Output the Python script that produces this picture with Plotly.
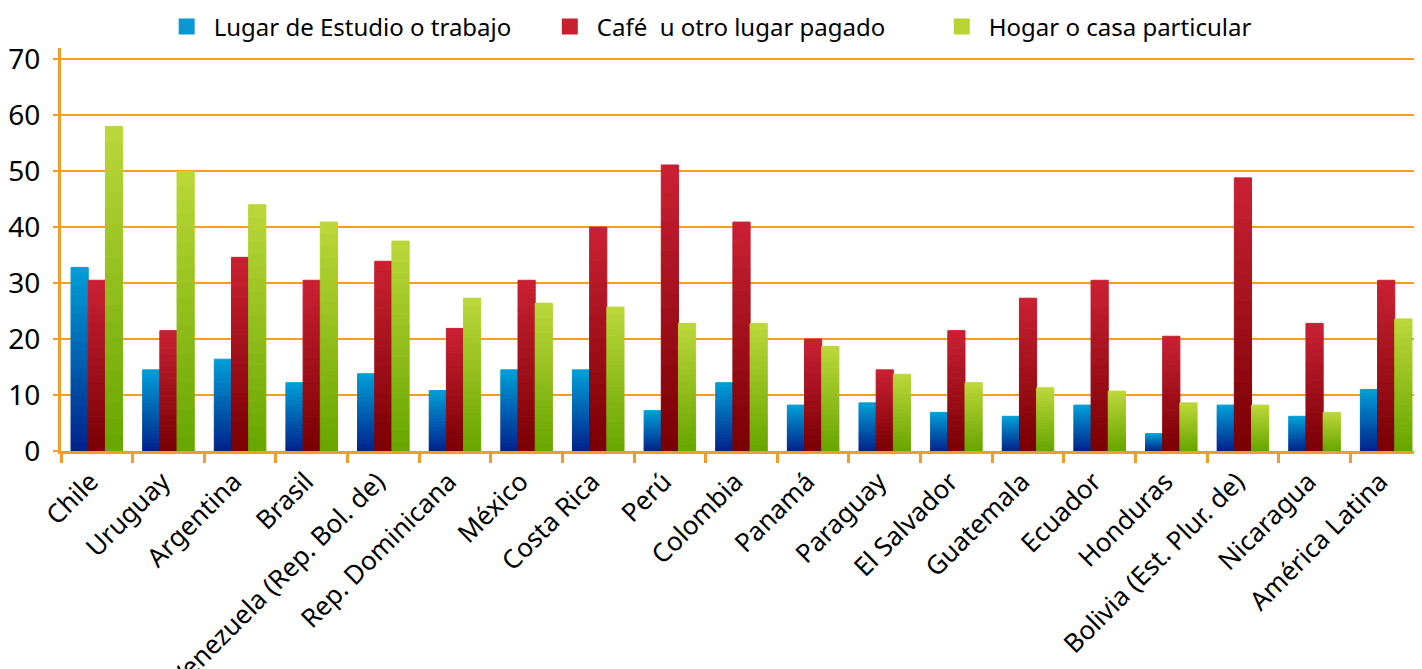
import plotly.graph_objects as go

# ── Data ──────────────────────────────────────────────────────────────────────
COUNTRIES = [
    "Chile", "Uruguay", "Argentina", "Brasil", "Venezuela (Rep. Bol. de)",
    "Rep. Dominicana", "México", "Costa Rica", "Perú", "Colombia", "Panamá",
    "Paraguay", "El Salvador", "Guatemala", "Ecuador", "Honduras",
    "Bolivia (Est. Plur. de)", "Nicaragua", "América Latina",
]
ESTUDIO_TRABAJO = [32.8, 14.5, 16.4, 12.2, 13.8, 10.8, 14.5, 14.5, 7.2, 12.2,
                   8.2, 8.6, 6.9, 6.2, 8.2, 3.1, 8.2, 6.2, 11.0]
CAFE_PAGADO = [30.5, 21.5, 34.6, 30.5, 33.9, 21.9, 30.5, 40.0, 51.1, 40.9,
               20.0, 14.5, 21.5, 27.3, 30.5, 20.5, 48.8, 22.8, 30.5]
HOGAR = [58.0, 50.0, 44.0, 40.9, 37.5, 27.3, 26.4, 25.7, 22.8, 22.8,
         18.7, 13.7, 12.2, 11.3, 10.7, 8.6, 8.2, 6.9, 23.6]

# name, values, bottom colour, top colour, legend swatch, legend id, legend x
SERIES = [
    ("Lugar de Estudio o trabajo", ESTUDIO_TRABAJO, (0, 36, 140), (0, 156, 214),
     "#0b97d3", "legend", 0.0725),
    ("Café  u otro lugar pagado", CAFE_PAGADO, (122, 0, 4), (200, 32, 50),
     "#c8202f", "legend2", 0.354),
    ("Hogar o casa particular", HOGAR, (104, 166, 0), (186, 214, 56),
     "#b7d433", "legend3", 0.642),
]

ORANGE = "#f39c2a"
FONT = "Noto Sans"
N_STEPS = 20  # vertical gradient slices per bar

# the page has an 8px body margin, so the figure is laid out 8px up/left
L, T, B, R = 53, 0, 226, 8
PLOT_H = 669 - T - B


def _mix(c0, c1, t):
    return "rgb({},{},{})".format(*[round(a + (b - a) * t) for a, b in zip(c0, c1)])


fig = go.Figure()

legends = {}
for name, values, dark, light, swatch, leg, legx in SERIES:
    step = [v / N_STEPS for v in values]
    for k in range(N_STEPS):
        col = _mix(dark, light, k / (N_STEPS - 1))
        fig.add_trace(go.Bar(
            x=COUNTRIES, y=step, base=[s * k for s in step],
            offsetgroup=name, showlegend=False,
            marker=dict(color=col, line=dict(width=1, color=col)),
            hoverinfo="skip",
        ))
    # legend swatch (square, like the original)
    fig.add_trace(go.Scatter(
        x=[None], y=[None], mode="markers", name=name, legend=leg,
        marker=dict(symbol="square", size=18, color=swatch),
    ))
    legends[leg] = dict(
        orientation="h", x=legx, xanchor="left",
        y=1 - 19 / PLOT_H, yanchor="middle",
        font=dict(size=24, family=FONT), itemwidth=44,
        bgcolor="rgba(0,0,0,0)",
    )

fig.update_layout(
    width=1422, height=669,
    barmode="group", bargap=0.28, bargroupgap=0,
    paper_bgcolor="white", plot_bgcolor="white",
    margin=dict(l=L, r=R, t=T, b=B, autoexpand=False),
    font=dict(family=FONT, color="black"),
    xaxis=dict(
        tickangle=-45, tickfont=dict(size=26, family=FONT), automargin=False,
        showline=True, linecolor=ORANGE, linewidth=3,
        ticks="outside", tickson="boundaries", ticklen=9, tickwidth=3,
        tickcolor=ORANGE, showgrid=False,
        ticklabelshift=-6, ticklabelstandoff=2,
    ),
    yaxis=dict(
        domain=[0, (PLOT_H - 40) / PLOT_H], range=[0, 72],
        tickvals=[0, 10, 20, 30, 40, 50, 60, 70],
        tickfont=dict(size=28, family=FONT), automargin=False,
        showline=True, linecolor=ORANGE, linewidth=3,
        ticks="outside", ticklen=5, tickwidth=2, tickcolor=ORANGE,
        ticklabelstandoff=7,
        showgrid=True, gridcolor=ORANGE, gridwidth=2,
        zeroline=False,
    ),
    **legends,
)

fig.write_html("out.html")
